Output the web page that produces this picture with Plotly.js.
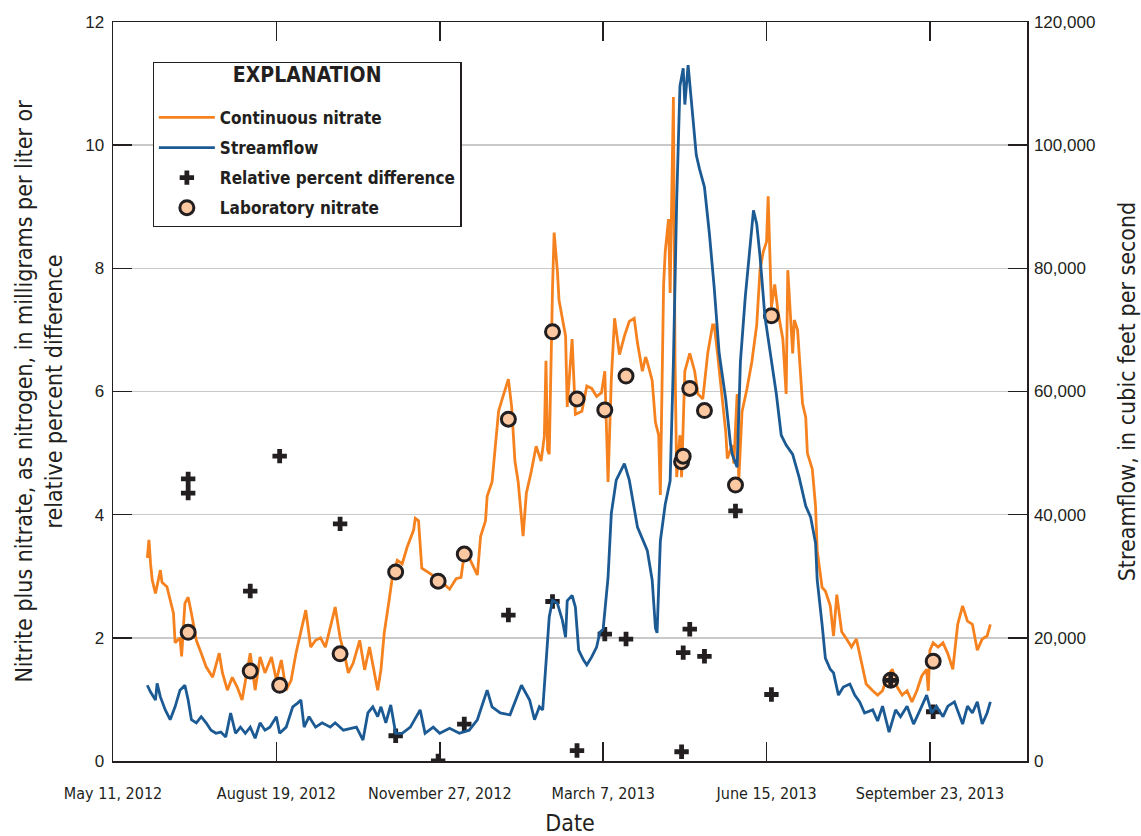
<!DOCTYPE html>
<html>
<head>
<meta charset="utf-8">
<script src="https://cdn.plot.ly/plotly-3.0.1.min.js"></script>
<style>html,body{margin:0;padding:0;background:#fff;}#chart{width:1141px;height:836px;}</style>
</head>
<body>
<div id="chart"></div>
<script>
// ---------- DATA ----------
const nitrateDates = ["2012-06-01","2012-06-02","2012-06-03","2012-06-04","2012-06-06","2012-06-09","2012-06-10","2012-06-13","2012-06-17","2012-06-18","2012-06-21","2012-06-22","2012-06-24","2012-06-26","2012-06-28","2012-07-01","2012-07-04","2012-07-07","2012-07-11","2012-07-15","2012-07-17","2012-07-20","2012-07-23","2012-07-26","2012-07-29","2012-07-31","2012-08-03","2012-08-06","2012-08-09","2012-08-12","2012-08-16","2012-08-19","2012-08-22","2012-08-25","2012-08-28","2012-08-31","2012-09-03","2012-09-06","2012-09-09","2012-09-12","2012-09-15","2012-09-18","2012-09-21","2012-09-24","2012-09-27","2012-09-30","2012-10-02","2012-10-05","2012-10-09","2012-10-12","2012-10-15","2012-10-18","2012-10-20","2012-10-22","2012-10-24","2012-10-27","2012-10-29","2012-11-01","2012-11-04","2012-11-07","2012-11-11","2012-11-12","2012-11-14","2012-11-16","2012-11-19","2012-11-23","2012-11-27","2012-12-03","2012-12-07","2012-12-10","2012-12-12","2012-12-15","2012-12-20","2012-12-22","2012-12-25","2012-12-26","2012-12-29","2012-12-31","2013-01-02","2013-01-04","2013-01-06","2013-01-08","2013-01-10","2013-01-12","2013-01-14","2013-01-17","2013-01-19","2013-01-22","2013-01-25","2013-01-28","2013-01-30","2013-01-31","2013-02-01","2013-02-02","2013-02-04","2013-02-05","2013-02-07","2013-02-08","2013-02-12","2013-02-13","2013-02-16","2013-02-18","2013-02-22","2013-02-25","2013-02-28","2013-03-03","2013-03-06","2013-03-08","2013-03-10","2013-03-12","2013-03-14","2013-03-17","2013-03-20","2013-03-23","2013-03-26","2013-03-28","2013-03-31","2013-04-02","2013-04-03","2013-04-06","2013-04-08","2013-04-10","2013-04-11","2013-04-13","2013-04-14","2013-04-16","2013-04-17","2013-04-19","2013-04-20","2013-04-21","2013-04-23","2013-04-24","2013-04-26","2013-04-29","2013-05-02","2013-05-04","2013-05-07","2013-05-10","2013-05-13","2013-05-14","2013-05-16","2013-05-19","2013-05-21","2013-05-22","2013-05-25","2013-05-26","2013-05-28","2013-05-29","2013-05-31","2013-06-03","2013-06-06","2013-06-09","2013-06-11","2013-06-13","2013-06-15","2013-06-16","2013-06-18","2013-06-20","2013-06-22","2013-06-25","2013-06-27","2013-06-28","2013-07-01","2013-07-02","2013-07-04","2013-07-07","2013-07-09","2013-07-10","2013-07-13","2013-07-15","2013-07-16","2013-07-19","2013-07-21","2013-07-24","2013-07-26","2013-07-28","2013-07-31","2013-08-03","2013-08-06","2013-08-09","2013-08-12","2013-08-15","2013-08-19","2013-08-22","2013-08-25","2013-08-28","2013-08-31","2013-09-03","2013-09-06","2013-09-09","2013-09-12","2013-09-15","2013-09-18","2013-09-21","2013-09-22","2013-09-23","2013-09-25","2013-09-28","2013-10-01","2013-10-04","2013-10-07","2013-10-10","2013-10-13","2013-10-16","2013-10-19","2013-10-22","2013-10-25","2013-10-28","2013-10-30"];
const nitrateValues = [3.3,3.59,3.2,2.94,2.72,3.1,2.9,2.83,2.4,1.92,2.0,1.7,2.56,2.66,2.4,1.96,1.75,1.53,1.36,1.75,1.43,1.15,1.36,1.2,0.99,1.31,1.75,1.15,1.69,1.43,1.69,1.31,1.64,1.15,1.31,1.75,2.12,2.45,1.85,1.96,2.0,1.85,2.17,2.5,2.0,1.69,1.43,1.59,1.96,1.48,1.85,1.43,1.15,1.48,2.08,2.61,2.99,3.26,3.2,3.47,3.75,3.94,3.9,3.13,3.08,3.02,2.94,2.79,2.96,2.98,3.36,3.3,3.02,3.65,3.9,4.3,4.53,5.11,5.68,5.86,6.04,6.2,5.75,4.87,4.53,3.65,4.35,4.7,5.11,4.87,5.27,6.5,5.05,4.98,7.66,8.58,7.95,7.48,6.9,5.75,6.85,5.63,5.68,6.09,6.05,5.92,5.98,6.33,4.53,6.2,7.19,6.6,6.9,7.14,7.19,6.79,6.33,6.56,6.48,6.18,5.5,5.29,4.32,7.74,8.27,8.8,7.6,10.78,6.48,4.61,5.29,4.61,6.33,6.62,6.33,5.96,5.88,6.62,7.08,7.08,6.62,5.88,5.35,4.91,5.13,4.83,5.96,4.55,5.67,6.04,6.48,7.08,7.97,8.27,8.43,9.17,7.37,7.74,7.3,6.85,5.96,7.97,6.62,7.16,7.0,5.81,5.58,5.0,4.74,4.14,3.42,2.82,2.76,2.52,2.03,2.7,2.1,1.98,1.85,1.98,1.62,1.25,1.14,1.07,1.14,1.38,1.49,1.2,1.07,1.14,0.96,1.14,1.38,1.49,1.14,1.8,1.92,1.85,1.92,1.74,1.49,2.22,2.52,2.27,2.22,1.8,1.98,2.03,2.22];

const flowDates = ["2012-06-01","2012-06-03","2012-06-06","2012-06-07","2012-06-09","2012-06-12","2012-06-15","2012-06-18","2012-06-21","2012-06-24","2012-06-26","2012-06-28","2012-07-01","2012-07-04","2012-07-07","2012-07-10","2012-07-13","2012-07-16","2012-07-19","2012-07-22","2012-07-25","2012-07-28","2012-07-31","2012-08-03","2012-08-06","2012-08-09","2012-08-12","2012-08-15","2012-08-19","2012-08-21","2012-08-25","2012-08-29","2012-09-01","2012-09-03","2012-09-05","2012-09-08","2012-09-12","2012-09-16","2012-09-21","2012-09-24","2012-09-29","2012-10-03","2012-10-07","2012-10-11","2012-10-14","2012-10-17","2012-10-20","2012-10-22","2012-10-25","2012-10-28","2012-10-31","2012-11-04","2012-11-09","2012-11-15","2012-11-18","2012-11-23","2012-11-27","2012-12-03","2012-12-09","2012-12-15","2012-12-20","2012-12-26","2012-12-29","2013-01-03","2013-01-09","2013-01-16","2013-01-21","2013-01-24","2013-01-27","2013-01-29","2013-02-01","2013-02-02","2013-02-04","2013-02-07","2013-02-10","2013-02-12","2013-02-13","2013-02-16","2013-02-18","2013-02-20","2013-02-23","2013-02-25","2013-02-28","2013-03-03","2013-03-05","2013-03-07","2013-03-10","2013-03-12","2013-03-15","2013-03-20","2013-03-23","2013-03-28","2013-04-03","2013-04-06","2013-04-08","2013-04-09","2013-04-11","2013-04-14","2013-04-17","2013-04-19","2013-04-21","2013-04-23","2013-04-25","2013-04-26","2013-04-28","2013-04-30","2013-05-03","2013-05-05","2013-05-08","2013-05-11","2013-05-14","2013-05-17","2013-05-21","2013-05-24","2013-05-25","2013-05-28","2013-05-30","2013-06-02","2013-06-05","2013-06-07","2013-06-09","2013-06-11","2013-06-14","2013-06-17","2013-06-21","2013-06-24","2013-06-27","2013-07-01","2013-07-05","2013-07-09","2013-07-12","2013-07-15","2013-07-16","2013-07-19","2013-07-21","2013-07-24","2013-07-26","2013-07-29","2013-08-01","2013-08-05","2013-08-08","2013-08-11","2013-08-14","2013-08-19","2013-08-22","2013-08-25","2013-08-29","2013-09-02","2013-09-05","2013-09-09","2013-09-13","2013-09-17","2013-09-21","2013-09-24","2013-09-27","2013-10-01","2013-10-04","2013-10-08","2013-10-13","2013-10-16","2013-10-19","2013-10-22","2013-10-25","2013-10-28","2013-10-30"];
const flowValues = [12300,11200,9900,12600,10400,8300,6700,8800,11500,12300,9900,6700,6200,7200,6200,5000,4500,4700,3900,7800,4500,5500,4500,5500,3700,6200,5000,5500,7200,4500,5500,8800,9400,9900,5500,7200,5500,6200,5500,6200,5000,5300,5500,3400,7800,8800,7200,8800,6200,9100,4500,4500,5500,8300,4500,5500,4500,5300,4500,5000,6700,11500,8800,7800,7500,12300,9900,6700,8800,8300,19100,23400,26100,25600,22900,20100,26000,26900,25000,18000,16400,15600,16900,18500,20900,21400,29800,40200,45600,48300,45600,38000,34200,29400,21600,20800,35700,41700,45500,64800,90900,109600,112500,106600,113000,106600,98400,96100,93200,85700,76800,66200,58800,51300,49800,47700,64800,75400,83500,89400,87200,82000,72200,67000,59600,52900,51300,49800,46000,41400,39600,35400,29400,22200,16700,14900,14300,10700,12000,12500,10700,9600,7800,8300,6500,8900,4700,8300,7200,8900,6000,8300,10700,7800,8900,7200,8900,9600,6000,8900,7800,9600,6000,7800,9600];

const labDates = ["2012-06-26","2012-08-03","2012-08-21","2012-09-27","2012-10-31","2012-11-26","2012-12-12","2013-01-08","2013-02-04","2013-02-19","2013-03-08","2013-03-21","2013-04-24","2013-04-25","2013-04-29","2013-05-08","2013-05-27","2013-06-18","2013-08-30","2013-09-25"];
const labValues = [2.09,1.46,1.23,1.74,3.07,2.92,3.36,5.55,6.97,5.88,5.7,6.25,4.86,4.95,6.05,5.69,4.48,7.23,1.31,1.62];

const rpdDates = ["2012-06-26","2012-06-26","2012-08-03","2012-08-21","2012-09-27","2012-10-31","2012-11-26","2012-12-12","2013-01-08","2013-02-04","2013-02-19","2013-03-08","2013-03-21","2013-04-24","2013-04-25","2013-04-29","2013-05-08","2013-05-27","2013-06-18","2013-08-30","2013-09-25"];
const rpdValues = [4.58,4.35,2.76,4.95,3.85,0.41,0.0,0.6,2.37,2.59,0.17,2.06,1.98,0.15,1.76,2.14,1.7,4.06,1.08,1.31,0.8];

const xTickVals = ["2012-05-11","2012-08-19","2012-11-27","2013-03-07","2013-06-15","2013-09-23"];
const xTickText = ["May 11, 2012","August 19, 2012","November 27, 2012","March 7, 2013","June 15, 2013","September 23, 2013"];
const yTickVals = [0,2,4,6,8,10,12];
const y2TickVals = [0,20000,40000,60000,80000,100000,120000];

// ---------- STYLE ----------
const INK = "#231f20";
const NARROW = "'Liberation Sans Narrow','Arial Narrow','DejaVu Sans Condensed','Roboto Condensed',sans-serif";
const WIDE = "'Liberation Sans',Arial,Helvetica,sans-serif";

const traces = [
  {x: nitrateDates, y: nitrateValues, type: "scatter", mode: "lines", name: "Continuous nitrate",
   line: {color: "#f5821f", width: 2.8}, legendrank: 1, legendgroup: "a", yaxis: "y"},
  {x: flowDates, y: flowValues, type: "scatter", mode: "lines", name: "Streamflow",
   line: {color: "#1c5a94", width: 2.8}, legendrank: 2, legendgroup: "b", yaxis: "y2"},
  {x: labDates, y: labValues, type: "scatter", mode: "markers", name: "Laboratory nitrate",
   marker: {symbol: "circle", size: 14, color: "#fbc8a2", line: {color: INK, width: 3}},
   legendrank: 4, legendgroup: "d", yaxis: "y"},
  {x: rpdDates, y: rpdValues, type: "scatter", mode: "markers", name: "Relative percent difference",
   marker: {symbol: "cross", size: 12, color: INK, line: {width: 0}},
   legendrank: 3, legendgroup: "c", yaxis: "y"}
];

const layout = {
  width: 1141, height: 836,
  margin: {l: 113, r: 114, t: 22, b: 75},
  paper_bgcolor: "#fff", plot_bgcolor: "#fff",
  showlegend: true,
  legend: {
    x: 0.0434, y: 0.9455, xanchor: "left", yanchor: "top",
    bgcolor: "#fff", bordercolor: INK, borderwidth: 1.2,
    font: {family: NARROW, size: 17, color: INK, weight: 700},
    title: {text: "<span style='font-size:21px'>EXPLANATION</span><br>&nbsp;", side: "top center",
            font: {family: NARROW, size: 14, color: INK, weight: 700}},
    traceorder: "grouped", tracegroupgap: 5, itemwidth: 56
  },
  xaxis: {
    type: "date", range: ["2012-05-11", "2013-11-21 10:00"],
    tickmode: "array", tickvals: xTickVals, ticktext: xTickText,
    ticks: "inside", ticklen: 19, tickwidth: 1.5, tickcolor: INK,
    showline: true, linecolor: INK, linewidth: 1.5, mirror: "ticks",
    showgrid: false, zeroline: false,
    tickfont: {family: NARROW, size: 16, color: INK}, ticklabelstandoff: 17,
    title: {text: "Date", font: {family: NARROW, size: 23, color: INK}, standoff: 14}
  },
  yaxis: {
    range: [0, 12], tickmode: "array", tickvals: yTickVals,
    ticks: "inside", ticklen: 19, tickwidth: 1.5, tickcolor: INK,
    showline: true, linecolor: INK, linewidth: 1.5,
    showgrid: true, gridcolor: "#c9c9c9", gridwidth: 1.5, zeroline: false,
    tickfont: {family: WIDE, size: 17, color: INK}, ticklabelstandoff: 4,
    title: {text: "Nitrite plus nitrate, as nitrogen, in milligrams per liter or<br>relative percent difference",
            font: {family: NARROW, size: 23, color: INK}, standoff: 16}
  },
  yaxis2: {
    overlaying: "y", side: "right", range: [0, 120000],
    tickmode: "array", tickvals: y2TickVals, tickformat: ",d",
    ticks: "inside", ticklen: 19, tickwidth: 1.5, tickcolor: INK,
    showline: true, linecolor: INK, linewidth: 1.5,
    showgrid: false, zeroline: false,
    tickfont: {family: WIDE, size: 17, color: INK}, ticklabelstandoff: 2,
    title: {text: "Streamflow, in cubic feet per second", font: {family: NARROW, size: 23, color: INK}, standoff: 24}
  }
};

Plotly.newPlot("chart", traces, layout, {displayModeBar: false, staticPlot: true});
</script>
</body>
</html>
